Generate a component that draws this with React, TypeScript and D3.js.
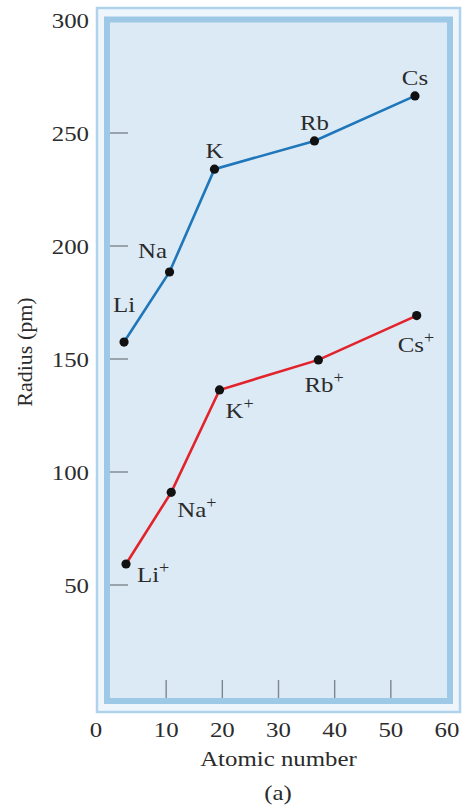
import React from "react";
import * as d3 from "d3";

// atomic number / radius (pm)
const atomNames = ["Li", "Na", "K", "Rb", "Cs"];
const atomX = [2.5, 10.6, 18.6, 36.4, 54.3];
const atomR = [157.5, 188.5, 234, 246.5, 266.4];

const ionNames = ["Li", "Na", "K", "Rb", "Cs"];
const ionX = [2.85, 10.9, 19.5, 37.1, 54.6];
const ionR = [59.3, 91, 136.3, 149.6, 169.2];

const xTicks = [0, 10, 20, 30, 40, 50, 60];
const yTicks = [50, 100, 150, 200, 250, 300];

// label offsets (px) relative to each point
const atomLabelOff = [
  [0, -30],
  [-17, -14],
  [0, -11],
  [0, -11],
  [0, -11],
];
const ionLabelOff = [
  [11, 18],
  [6, 25],
  [6, 28],
  [-14, 32],
  [-19, 36],
];

const W = 465;
const H = 809;
const FONT = "'Liberation Serif', 'Times New Roman', serif";
const TXT = "#2b2b2b";
const SX = 1.13; // horizontal stretch of the scanned figure

const App = () => {
  const x = d3.scaleLinear().domain([0, 60]).range([110, 447]);
  const y = d3.scaleLinear().domain([0, 300]).range([698, 20]);

  const line = d3
    .line<[number, number]>()
    .x((d) => x(d[0]))
    .y((d) => y(d[1]));

  const atoms = atomX.map((v, i) => [v, atomR[i]] as [number, number]);
  const ions = ionX.map((v, i) => [v, ionR[i]] as [number, number]);

  const [x0, x1] = x.range();
  const [y0, y1] = [y(300), y(0)];

  const sText = (
    key: string,
    px: number,
    py: number,
    anchor: string,
    content: React.ReactNode,
    size = 22
  ) => (
    <text
      key={key}
      transform={`translate(${px},${py}) scale(${SX},1)`}
      textAnchor={anchor}
      fontFamily={FONT}
      fontSize={size}
      fill={TXT}
    >
      {content}
    </text>
  );

  return (
    <svg
      width={W}
      height={H}
      style={{ position: "absolute", left: 0, top: 0, background: "#fff" }}
    >
      {/* frame */}
      <rect
        x={x0 - 13}
        y={y0 - 12}
        width={x1 - x0 + 26}
        height={y1 - y0 + 26}
        fill="#eef6fc"
        stroke="#afd3ec"
        strokeWidth={2.5}
      />
      <rect
        x={x0 - 3}
        y={y0 - 0.5}
        width={x1 - x0 + 6}
        height={y1 - y0 + 3.5}
        fill="#dceaf6"
        stroke="#9ec9e6"
        strokeWidth={6}
      />

      {/* y ticks */}
      {yTicks.map((t) => (
        <g key={"y" + t}>
          {t < 300 && (
            <line
              x1={x0}
              x2={x0 + 18}
              y1={y(t)}
              y2={y(t)}
              stroke="#7c868f"
              strokeWidth={1.4}
            />
          )}
          {sText("yl" + t, 89, y(t) + 7.5, "end", t)}
        </g>
      ))}

      {/* x ticks */}
      {xTicks.map((t) => (
        <g key={"x" + t}>
          {t > 0 && t < 60 && (
            <line
              x1={x(t)}
              x2={x(t)}
              y1={y1}
              y2={y1 - 18}
              stroke="#7c868f"
              strokeWidth={1.4}
            />
          )}
          {sText("xl" + t, t === 0 ? x(t) - 14 : x(t), 737, "middle", t)}
        </g>
      ))}

      {/* lines */}
      <path d={line(atoms) || ""} fill="none" stroke="#1f77ba" strokeWidth={2.6} />
      <path d={line(ions) || ""} fill="none" stroke="#e2232b" strokeWidth={2.6} />

      {atoms.map((d, i) => (
        <circle key={"a" + i} cx={x(d[0])} cy={y(d[1])} r={4.6} fill="#111" />
      ))}
      {ions.map((d, i) => (
        <circle key={"i" + i} cx={x(d[0])} cy={y(d[1])} r={4.6} fill="#111" />
      ))}

      {/* labels */}
      {atoms.map((d, i) =>
        sText(
          "al" + i,
          x(d[0]) + atomLabelOff[i][0],
          y(d[1]) + atomLabelOff[i][1],
          "middle",
          atomNames[i]
        )
      )}
      {ions.map((d, i) =>
        sText(
          "il" + i,
          x(d[0]) + ionLabelOff[i][0],
          y(d[1]) + ionLabelOff[i][1],
          "start",
          <>
            {ionNames[i]}
            <tspan fontSize={16} dy={-9}>
              +
            </tspan>
          </>
        )
      )}

      {/* axis titles */}
      {sText("xt", 278.5, 766, "middle", "Atomic number")}
      {sText("cap", 278, 800, "middle", "(a)")}
      <text
        transform={`translate(32,352) rotate(-90)`}
        textAnchor="middle"
        fontFamily={FONT}
        fontSize={22}
        fill={TXT}
      >
        Radius (pm)
      </text>
    </svg>
  );
};

export default App;
